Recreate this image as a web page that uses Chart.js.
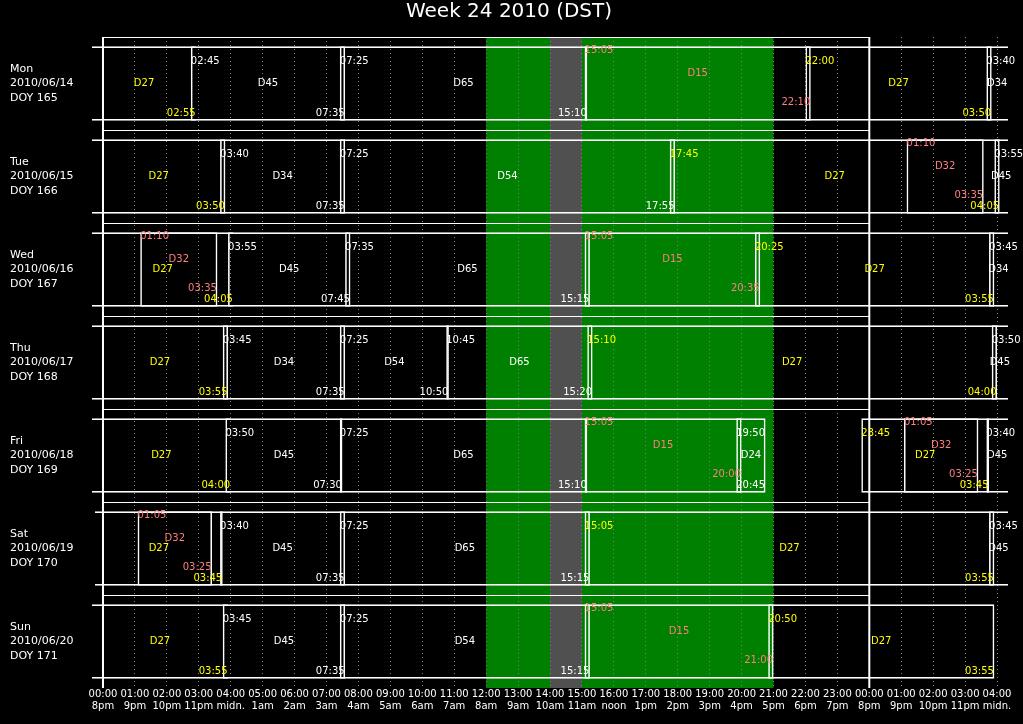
<!DOCTYPE html>
<html>
<head>
<meta charset="utf-8">
<title>Week 24 2010 (DST)</title>
<script src="https://cdn.jsdelivr.net/npm/chart.js@4.4.1/dist/chart.umd.min.js"></script>
<style>
  html, body { margin: 0; padding: 0; background: #000; }
  #wrap { width: 1023px; height: 724px; }
</style>
</head>
<body>
<div id="wrap"><canvas id="chart"></canvas></div>
<script>
// rows of the week
const days = ['Mon', 'Tue', 'Wed', 'Thu', 'Fri', 'Sat', 'Sun'];
const dates = ['2010/06/14', '2010/06/15', '2010/06/16', '2010/06/17', '2010/06/18', '2010/06/19', '2010/06/20'];
const doys = [165, 166, 167, 168, 169, 170, 171];

// x axis: hours after 00:00 UTC of the row's day
const hourTicks = [0, 1, 2, 3, 4, 5, 6, 7, 8, 9, 10, 11, 12, 13, 14, 15, 16, 17, 18, 19, 20, 21, 22, 23, 24, 25, 26, 27, 28];
const utcLabels = ['00:00', '01:00', '02:00', '03:00', '04:00', '05:00', '06:00', '07:00', '08:00', '09:00',
  '10:00', '11:00', '12:00', '13:00', '14:00', '15:00', '16:00', '17:00', '18:00', '19:00', '20:00',
  '21:00', '22:00', '23:00', '00:00', '01:00', '02:00', '03:00', '04:00'];
const localLabels = ['8pm', '9pm', '10pm', '11pm', 'midn.', '1am', '2am', '3am', '4am', '5am', '6am', '7am',
  '8am', '9am', '10am', '11am', 'noon', '1pm', '2pm', '3pm', '4pm', '5pm', '6pm', '7pm',
  '8pm', '9pm', '10pm', '11pm', 'midn.'];

const dayBand = [12, 21];     // green
const greyBand = [14, 15];    // grey
const panelSpan = [0, 24];

// duties: [day, start, end]  (times may run into the next day or start the day before)
const d27 = [
  [0, '-03:10', '02:55'], [0, '22:00', '27:50'],
  [1, '-02:00', '03:50'], [1, '17:45', '28:05'],
  [2, '-06:15', '04:05'], [2, '20:25', '27:55'],
  [3, '-03:35', '03:55'], [3, '15:10', '28:00'],
  [4, '-08:50', '04:00'], [4, '23:45', '27:45'],
  [5, '-00:15', '03:45'], [5, '15:05', '27:55'],
  [6, '-08:55', '03:55'], [6, '20:50', '27:55']
];
const d45 = [
  [0, '02:45', '07:35'],
  [1, '27:55', '31:45'],
  [2, '03:55', '07:45'],
  [3, '27:50', '31:30'],
  [4, '03:50', '07:30'], [4, '27:40', '31:35'],
  [5, '03:40', '07:35'], [5, '27:45', '31:35'],
  [6, '03:45', '07:35']
];
const d34 = [
  [0, '27:40', '31:35'],
  [1, '03:40', '07:35'],
  [2, '27:45', '31:35'],
  [3, '03:45', '07:35']
];
const d65 = [
  [0, '07:25', '15:10'],
  [2, '07:35', '15:15'],
  [3, '10:45', '15:20'],
  [4, '07:25', '15:10'],
  [5, '07:25', '15:15']
];
const d54 = [
  [1, '07:25', '17:55'],
  [3, '07:25', '10:50'],
  [6, '07:25', '15:15']
];
const d24 = [
  [4, '19:50', '20:45']
];
const d15 = [
  [0, '15:05', '22:10'],
  [2, '15:05', '20:35'],
  [4, '15:05', '20:00'],
  [6, '15:05', '21:00']
];
const d32 = [
  [1, '25:10', '27:35'],
  [2, '01:10', '03:35'],
  [4, '25:05', '27:25'],
  [5, '01:05', '03:25']
];

const YELLOW = '#ffff00';
const WHITE = '#ffffff';
const SALMON = '#ff7f7f';

const duties = [
  { code: 'D27', rows: d27, color: YELLOW, raised: false },
  { code: 'D45', rows: d45, color: WHITE, raised: false },
  { code: 'D34', rows: d34, color: WHITE, raised: false },
  { code: 'D65', rows: d65, color: WHITE, raised: false },
  { code: 'D54', rows: d54, color: WHITE, raised: false },
  { code: 'D24', rows: d24, color: WHITE, raised: false },
  { code: 'D15', rows: d15, color: SALMON, raised: true },
  { code: 'D32', rows: d32, color: SALMON, raised: true }
];

// label offsets inside a bar (px)
const normalOff = { start: 15, mid: 0, end: 7 };
const raisedOff = { start: 4.5, mid: -10, end: 18 };

const FONT = '"DejaVu Sans", "Liberation Sans", sans-serif';

function hrs(t) {
  const neg = t[0] === '-';
  const p = t.replace('-', '').split(':').map(Number);
  const v = p[0] + p[1] / 60;
  return neg ? -v : v;
}
function clock(t) {
  const p = t.replace('-', '').split(':');
  const h = ((Number(p[0]) % 24) + 24) % 24;
  return String(h).padStart(2, '0') + ':' + p[1];
}

const bands = {
  id: 'bands',
  beforeDraw(chart) {
    const { ctx, chartArea, scales: { x } } = chart;
    ctx.save();
    ctx.fillStyle = '#008000';
    ctx.fillRect(x.getPixelForValue(dayBand[0]), chartArea.top,
      x.getPixelForValue(dayBand[1]) - x.getPixelForValue(dayBand[0]), chartArea.bottom - chartArea.top);
    ctx.fillStyle = '#505050';
    ctx.fillRect(x.getPixelForValue(greyBand[0]), chartArea.top,
      x.getPixelForValue(greyBand[1]) - x.getPixelForValue(greyBand[0]), chartArea.bottom - chartArea.top);
    ctx.restore();
  }
};

const frame = {
  id: 'frame',
  afterDatasetsDraw(chart) {
    const { ctx, chartArea, scales: { x, y } } = chart;
    const step = y.getPixelForValue(1) - y.getPixelForValue(0);
    const x0 = x.getPixelForValue(panelSpan[0]);
    const x1 = x.getPixelForValue(panelSpan[1]);
    ctx.save();
    ctx.strokeStyle = '#fff';
    ctx.lineWidth = 1;
    ctx.beginPath();
    days.forEach((d, i) => {
      const yy = Math.round(y.getPixelForValue(i) - step / 2) + 0.5;
      ctx.moveTo(x0, yy);
      ctx.lineTo(x1, yy);
    });
    ctx.stroke();
    ctx.lineWidth = 2;
    ctx.beginPath();
    ctx.moveTo(x0, chartArea.top); ctx.lineTo(x0, chartArea.bottom);
    ctx.moveTo(x1, chartArea.top); ctx.lineTo(x1, chartArea.bottom);
    ctx.stroke();
    ctx.restore();
  }
};

const dutyLabels = {
  id: 'dutyLabels',
  afterDatasetsDraw(chart) {
    const { ctx, scales: { x } } = chart;
    ctx.save();
    ctx.font = '10px ' + FONT;
    ctx.textBaseline = 'middle';
    duties.forEach((duty, di) => {
      const meta = chart.getDatasetMeta(di);
      const off = duty.raised ? raisedOff : normalOff;
      ctx.fillStyle = duty.color;
      duty.rows.forEach((r, j) => {
        const el = meta.data[j];
        const s = hrs(r[1]);
        const e = hrs(r[2]);
        const top = el.y - el.height / 2;
        const bottom = el.y + el.height / 2;
        const mid = (Math.max(s, x.min) + Math.min(e, x.max)) / 2;
        ctx.textAlign = 'center';
        ctx.fillText(duty.code, x.getPixelForValue(mid), el.y + off.mid);
        if (s >= 0) {
          ctx.textAlign = 'left';
          ctx.fillText(clock(r[1]), x.getPixelForValue(s), top + off.start);
        }
        if (e <= x.max) {
          ctx.textAlign = 'right';
          ctx.fillText(clock(r[2]), x.getPixelForValue(e) - 0.5, bottom - off.end);
        }
      });
    });
    ctx.restore();
  }
};

const chart = new Chart(document.getElementById('chart'), {
  type: 'bar',
  data: {
    labels: days,
    datasets: duties.map(d => ({
      label: d.code,
      data: d.rows.map(r => ({ y: days[r[0]], x: [hrs(r[1]), hrs(r[2])] })),
      backgroundColor: 'rgba(0,0,0,0)',
      borderColor: '#ffffff',
      borderWidth: 1.6,
      borderSkipped: c => (c.raw && c.raw.x[0] < 0 ? 'left' : false),
      grouped: false,
      categoryPercentage: 1,
      barPercentage: 0.8
    }))
  },
  options: {
    indexAxis: 'y',
    animation: false,
    responsive: true,
    maintainAspectRatio: false,
    events: [],
    layout: { padding: { left: 10, right: 15, top: 0, bottom: 0 } },
    plugins: {
      legend: { display: false },
      tooltip: { enabled: false },
      title: {
        display: true,
        text: 'Week 24 2010 (DST)',
        color: '#ffffff',
        font: { family: FONT, size: 20, weight: 'normal', lineHeight: 1.2 },
        padding: { top: 0, bottom: 13 }
      }
    },
    scales: {
      x: {
        type: 'linear',
        min: -0.344,
        max: 28.344,
        afterBuildTicks: s => { s.ticks = hourTicks.map(v => ({ value: v })); },
        afterFit: s => { s.height = 36; },
        grid: { color: '#808080', lineWidth: 1, drawTicks: false },
        border: { display: false, dash: [1, 3] },
        ticks: {
          autoSkip: false,
          maxRotation: 0,
          minRotation: 0,
          padding: 0,
          color: '#ffffff',
          font: { family: FONT, size: 10, lineHeight: 1.2 },
          callback: v => [utcLabels[hourTicks.indexOf(v)], localLabels[hourTicks.indexOf(v)]]
        }
      },
      y: {
        afterFit: s => { s.width = 82; },
        grid: { display: false, drawTicks: false },
        border: { display: false },
        ticks: {
          autoSkip: false,
          crossAlign: 'far',
          color: '#ffffff',
          font: { family: FONT, size: 11, lineHeight: 1.3 },
          callback: (v, i) => [days[i], dates[i], 'DOY ' + doys[i]]
        }
      }
    }
  },
  plugins: [bands, frame, dutyLabels]
});
</script>
</body>
</html>
